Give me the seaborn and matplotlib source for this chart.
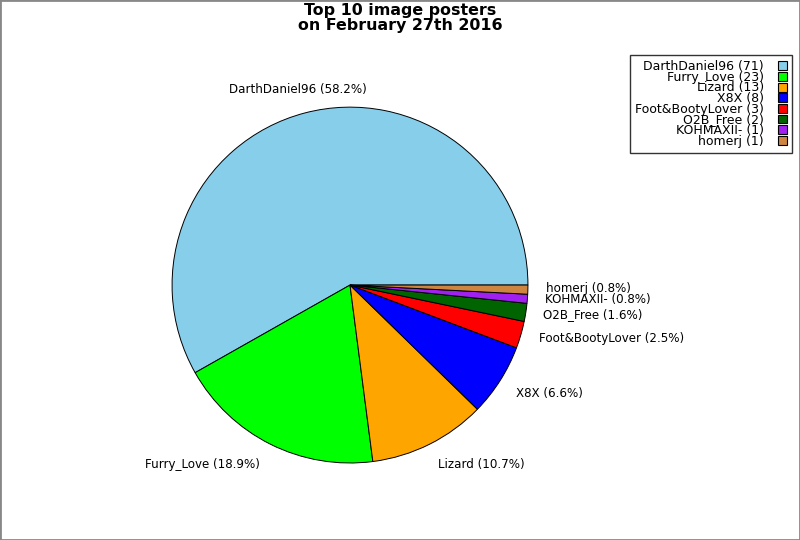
import matplotlib
matplotlib.use("Agg")
import matplotlib.pyplot as plt
import matplotlib.patches as mpatches
import seaborn as sns

sns.set_style("white")
plt.rcParams['font.family'] = ['DejaVu Sans']
plt.rcParams['text.color'] = 'black'

names = ["DarthDaniel96", "Furry_Love", "Lizard", "X8X", "Foot&BootyLover",
         "O2B_Free", "KOHMAXII-", "homerj"]
counts = [71, 23, 13, 8, 3, 2, 1, 1]
colors = ["#87CEEB", "#00FF00", "#FFA500", "#0000FF", "#FF0000",
          "#006400", "#A020F0", "#CD853F"]
title = "Top 10 image posters\non February 27th 2016"

# label layout (left edge x, center y) in pie-radius units
label_pos = [(-0.680, 1.101), (-1.152, -1.006), (0.494, -1.006), (0.933, -0.607),
             (1.062, -0.303), (1.084, -0.163), (1.096, -0.082), (1.101, -0.018)]

total = sum(counts)
fig = plt.figure(figsize=(8, 5.4), dpi=100)
ax = fig.add_axes([0.215, 0.1426, 0.445, 0.659])
wedges, _ = ax.pie(counts, colors=colors, startangle=0, counterclock=True,
                   wedgeprops=dict(edgecolor="black", linewidth=0.7))
ax.set_xlim(-1, 1)
ax.set_ylim(-1, 1)
ax.set_aspect("equal")
ax.axis("off")

for n, c, (x, y) in zip(names, counts, label_pos):
    ax.text(x, y, f"{n} ({100 * c / total:.1f}%)", ha="left", va="center",
            fontsize=8.6, color="black", clip_on=False)

handles = [mpatches.Patch(facecolor=col, edgecolor="black", linewidth=0.8) for col in colors]
leg_labels = [f"{n} ({c})" for n, c in zip(names, counts)]
leg = fig.legend(handles, leg_labels, loc="upper right",
                 bbox_to_anchor=(792 / 800, 1 - 55 / 540),
                 fontsize=9, markerfirst=False, frameon=True, fancybox=False,
                 handlelength=0.72, handleheight=0.72, handletextpad=1.1,
                 labelspacing=-0.19, borderpad=0.42, borderaxespad=0)
leg.get_frame().set_edgecolor("black")
leg.get_frame().set_linewidth(1.0)
for t in leg.get_texts():
    t.set_color("black")
for vp in leg._legend_box._children[-1]._children:
    vp.align = "right"

fig.suptitle(title, fontsize=11.4, fontweight="bold", y=0.994, va="top",
             linespacing=0.95, color="black")

fig.patches.append(mpatches.Rectangle((0, 0), 1, 1, transform=fig.transFigure,
                                      fill=False, edgecolor="#888888", linewidth=2))
fig.savefig("out.png", dpi=100)
